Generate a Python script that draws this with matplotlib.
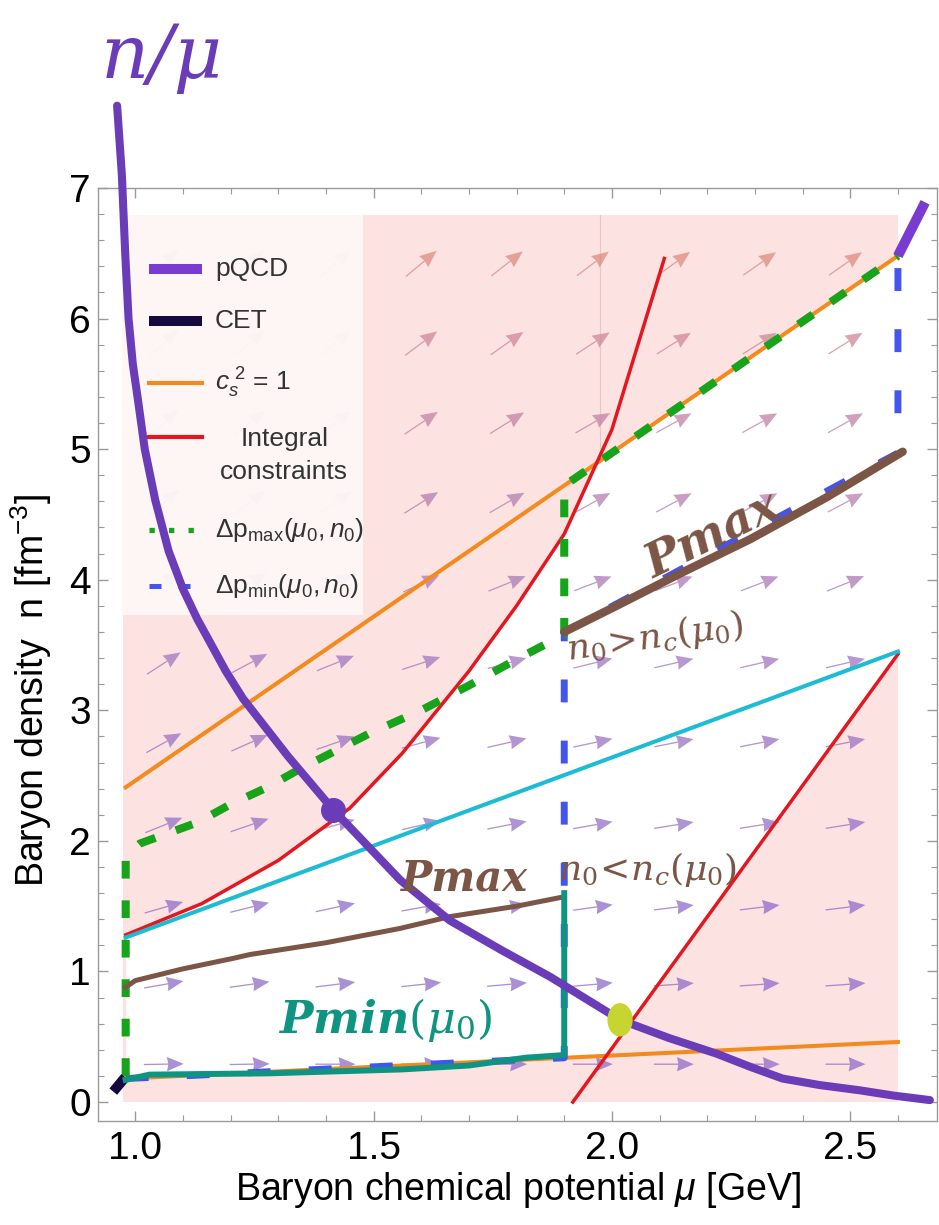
import numpy as np
import matplotlib
matplotlib.use('Agg')
import matplotlib.pyplot as plt
from matplotlib.patches import Rectangle, Ellipse

plt.rcParams['font.family'] = ['Liberation Sans', 'DejaVu Sans']
plt.rcParams['mathtext.fontset'] = 'custom'
plt.rcParams['mathtext.rm'] = 'Liberation Sans'
plt.rcParams['mathtext.it'] = 'Liberation Sans:italic'
plt.rcParams['mathtext.bf'] = 'Liberation Sans:bold'

# shaded box (mu in GeV, n in fm^-3)
mu_box = [0.975, 2.60]
n_box = [0.0, 6.79]

# causality lines c_s^2 = 1
mu_cs_lo = [0.98, 2.60]
n_cs_lo = [0.18, 0.46]
mu_cs_hi = [0.98, 2.60]
n_cs_hi = [2.41, 6.48]

# integral constraints
mu_int_left = [0.98, 1.14, 1.30, 1.45, 1.56, 1.70, 1.80, 1.90, 2.00, 2.11]
n_int_left = [1.28, 1.52, 1.85, 2.25, 2.67, 3.30, 3.80, 4.35, 5.15, 6.46]
mu_int_right = [1.918, 2.60]
n_int_right = [0.0, 3.43]

# cyan line
mu_cyan = [0.98, 2.60]
n_cyan = [1.26, 3.45]

# Delta p_max(mu0, n0) and Delta p_min(mu0, n0)
mu_pmax = [0.98, 0.98, 0.99, 1.01, 1.13, 1.20, 1.277, 1.35, 1.415, 1.49, 1.60, 1.70, 1.80, 1.90, 1.90, 2.60]
n_pmax = [0.20, 1.85, 1.92, 1.98, 2.14, 2.28, 2.41, 2.56, 2.68, 2.82, 3.00, 3.19, 3.39, 3.58, 4.72, 6.48]
mu_pmin = [0.98, 1.90, 1.90, 2.60, 2.60]
n_pmin = [0.18, 0.339, 3.60, 4.97, 6.48]

# pQCD and CET ends
mu_pqcd = [2.60, 2.657]
n_pqcd = [6.48, 6.89]
mu_cet = [0.954, 0.979]
n_cet = [0.08, 0.19]

# drawn-on curves
mu_hand_pmax_hi = [1.90, 2.01, 2.15, 2.29, 2.45, 2.61]
n_hand_pmax_hi = [3.60, 3.80, 4.06, 4.31, 4.63, 4.98]
mu_hand_pmax_lo = [0.98, 1.00, 1.10, 1.205, 1.241, 1.40, 1.556, 1.66, 1.80, 1.897]
n_hand_pmax_lo = [0.88, 0.93, 1.02, 1.10, 1.13, 1.22, 1.33, 1.42, 1.50, 1.57]
mu_hand_pmin = [0.98, 1.03, 1.28, 1.56, 1.70, 1.82, 1.90, 1.90]
n_hand_pmin = [0.17, 0.21, 0.22, 0.25, 0.28, 0.34, 0.36, 1.60]
mu_n_over_mu = [0.962, 0.972, 0.979, 0.986, 0.995, 1.006, 1.02, 1.042, 1.07, 1.10, 1.13,
                1.157, 1.19, 1.226, 1.32, 1.415, 1.556, 1.66, 1.77, 1.87, 2.017, 2.12,
                2.22, 2.29, 2.358, 2.436, 2.52, 2.59, 2.667]
n_n_over_mu = [7.63, 7.10, 6.50, 6.00, 5.65, 5.37, 5.00, 4.61, 4.22, 3.93, 3.70,
               3.52, 3.30, 3.09, 2.65, 2.24, 1.70, 1.39, 1.16, 0.96, 0.63, 0.49,
               0.37, 0.27, 0.18, 0.13, 0.09, 0.05, 0.015]
dot_purple = (1.415, 2.24)
dot_yellow = (2.017, 0.63)

# vector field: grid and arrow angles (deg, on screen)
arrow_mu = [1.06, 1.24, 1.42, 1.60, 1.78, 1.96, 2.13, 2.31, 2.49]
arrow_n = [0.29, 0.90, 1.49, 2.12, 2.75, 3.36, 3.97, 4.59, 5.20, 5.81, 6.42]
arrow_angle = [
    [1, 1, 0, 0, 0, 0, 0, 0, 0],
    [10, 8, 7, 6, 5, 5, 4, 4, 4],
    [16, 14, 12, 10, 9, 8, 7, 7, 7],
    [22, 19, 16, 13, 11, 10, 9, 9, 9],
    [29, 24, 19, 15, 13, 12, 11, 11, 11],
    [33, 28, 22, 18, 15, 14, 13, 13, 13],
    [38, 33, 28, 25, 22, 21, 21, 21, 22],
    [40, 37, 34, 32, 30, 29, 28, 28, 28],
    [41, 39, 37, 34, 32, 30, 29, 29, 29],
    [42, 41, 39, 37, 35, 33, 32, 32, 32],
    [43, 42, 41, 40, 38, 37, 36, 35, 35],
]
arrow_row_color = ['#8e6cc9', '#8e6cc9', '#8e6cc9', '#9470c6', '#9a72c2', '#a076be',
                   '#ab7ab6', '#b67eae', '#c282a4', '#ce8794', '#dc8b80']

fig = plt.figure(figsize=(9.39, 12.25), dpi=100)
ax = fig.add_axes([0.1044, 0.0849, 0.8935, 0.7617])
ax.set_xlim(0.922, 2.682)
ax.set_ylim(-0.145, 7.0)

# pink excluded area, white allowed area on top
ax.add_patch(Rectangle((mu_box[0], n_box[0]), mu_box[1] - mu_box[0], n_box[1] - n_box[0],
                       fc='#fde2e2', ec='none', zorder=0))
grid = np.linspace(mu_cs_lo[0], mu_box[1], 600)
lo = np.maximum(np.interp(grid, mu_cs_lo, n_cs_lo), np.interp(grid, mu_int_right, n_int_right))
hi = np.minimum(np.interp(grid, mu_cs_hi, n_cs_hi), np.interp(grid, mu_int_left, n_int_left, right=np.inf))
ax.fill_between(grid, lo, hi, color='white', lw=0, zorder=0.5)
ax.plot([1.975, 1.975], [4.9, n_box[1]], color='#e9c6c6', lw=0.8, zorder=0.6)

# vector field
M, N = np.meshgrid(arrow_mu, arrow_n)
ang = np.radians(np.array(arrow_angle, dtype=float))
cols = np.repeat(arrow_row_color, len(arrow_mu))
ax.quiver(M, N, np.cos(ang), np.sin(ang), color=cols, angles='uv', pivot='middle',
          scale_units='dots', scale=1 / 40.0, units='dots', width=1.3,
          headwidth=11, headlength=13, headaxislength=12, alpha=0.75, zorder=1)

# legend panel
ax.add_patch(Rectangle((0.0286, 0.542), 0.287, 0.429, transform=ax.transAxes,
                       fc='#fdf8f7', ec='none', alpha=0.95, zorder=1.5))

# curves
ax.plot(mu_cs_lo, n_cs_lo, color='#f28a1e', lw=2.9, zorder=2)
ax.plot(mu_cs_hi, n_cs_hi, color='#f28a1e', lw=2.9, zorder=2)
ax.plot(mu_int_left, n_int_left, color='#e3171f', lw=2.5, zorder=2.1)
ax.plot(mu_int_right, n_int_right, color='#e3171f', lw=2.5, zorder=2.1)
ax.plot(mu_cyan, n_cyan, color='#1bbcd4', lw=2.9, zorder=2.1)
ax.plot(mu_pmax, n_pmax, color='#17a31a', lw=5.8, dashes=(2.2, 2.7), solid_capstyle='butt', zorder=2.3)
ax.plot(mu_pmin, n_pmin, color='#4455ee', lw=5.0, dashes=(3.3, 5.5), zorder=2.2)
ax.plot(mu_pqcd, n_pqcd, color='#7a3bd0', lw=7.2, solid_capstyle='butt', zorder=2.4)
ax.plot(mu_cet, n_cet, color='#16093f', lw=7.2, solid_capstyle='butt', zorder=2.4)

# drawn-on curves and labels
ax.plot(mu_hand_pmax_hi, n_hand_pmax_hi, color='#7b5546', lw=6.0, solid_capstyle='round', zorder=3)
ax.plot(mu_hand_pmax_lo, n_hand_pmax_lo, color='#7b5546', lw=3.6, zorder=3)
ax.plot(mu_hand_pmin, n_hand_pmin, color='#0f9482', lw=4.3, zorder=3)
ax.plot(mu_n_over_mu, n_n_over_mu, color='#6a3cb8', lw=5.8, solid_capstyle='round',
        solid_joinstyle='round', clip_on=False, zorder=3.5)
ax.plot(*dot_purple, 'o', color='#6a3cb8', ms=17, zorder=3.6)
ax.add_patch(Ellipse(dot_yellow, 0.050, 0.245, color='#c7d530', zorder=3.7))

hand = dict(family='DejaVu Serif', style='italic', fontweight='bold', math_fontfamily='dejavuserif',
            ha='center', va='center', zorder=4)
ax.text(2.21, 4.34, 'Pmax', color='#7b5546', fontsize=34, rotation=26, rotation_mode='anchor', **hand)
ax.text(1.69, 1.715, 'Pmax', color='#7b5546', fontsize=30, **hand)
ax.text(2.09, 3.56, r'$n_0\!>\!n_c(\mu_0)$', color='#7b5546', fontsize=26, rotation=8,
        rotation_mode='anchor', **hand)
ax.text(2.075, 1.78, r'$n_0\!<\!n_c(\mu_0)$', color='#7b5546', fontsize=26, **hand)
ax.text(1.524, 0.63, r'Pmin$(\mu_0)$', color='#0f9482', fontsize=32, **hand)
fig.text(0.172, 0.953, 'n/μ', color='#6a3cb8', fontsize=54, family='DejaVu Serif',
         style='italic', ha='center', va='center')

# legend
lx0, lx1, ltx = 0.0608, 0.124, 0.1395
ax.plot([lx0, lx1], [0.913, 0.913], transform=ax.transAxes, color='#7a3bd0', lw=7.2,
        solid_capstyle='butt', zorder=2.5)
ax.plot([lx0, lx1], [0.857, 0.857], transform=ax.transAxes, color='#16093f', lw=7.2,
        solid_capstyle='butt', zorder=2.5)
ax.plot([lx0, lx1], [0.791, 0.791], transform=ax.transAxes, color='#f28a1e', lw=3, zorder=2.5)
ax.plot([lx0, lx1], [0.733, 0.733], transform=ax.transAxes, color='#e3171f', lw=3, zorder=2.5)
ax.plot([lx0, lx1], [0.633, 0.633], transform=ax.transAxes, color='#17a31a', lw=3.8,
        dashes=(1.0, 2.7), zorder=2.5)
ax.plot([lx0, lx1], [0.573, 0.573], transform=ax.transAxes, color='#4455ee', lw=3.6,
        dashes=(2.4, 3.4), zorder=2.5)
lt = dict(transform=ax.transAxes, fontsize=19, color='#333333', va='center', zorder=2.5)
ax.text(ltx, 0.913, 'pQCD', **lt)
ax.text(ltx, 0.857, 'CET', **lt)
ax.text(ltx, 0.791, r'$c_s^{\ 2}$ = 1', **lt)
ax.text(0.222, 0.713, 'Integral\nconstraints', ha='center', linespacing=1.45, **lt)
ax.text(ltx, 0.633, r'$\Delta\mathrm{p}_{\mathrm{max}}(\mu_0,n_0)$', **lt)
ax.text(ltx, 0.573, r'$\Delta\mathrm{p}_{\mathrm{min}}(\mu_0,n_0)$', **lt)

# frame and ticks
for s in ax.spines.values():
    s.set_color('#9a9a9a')
    s.set_linewidth(1.0)
ax.set_xticks([1.0, 1.5, 2.0, 2.5])
ax.set_xticks(np.arange(1.0, 2.7, 0.1), minor=True)
ax.set_yticks(range(8))
ax.set_yticks(np.arange(0, 7.01, 0.2), minor=True)
ax.set_xticklabels(['1.0', '1.5', '2.0', '2.5'])
ax.tick_params(which='both', direction='in', top=True, right=True, color='#9a9a9a', labelsize=28)
ax.tick_params(which='major', length=7, width=1)
ax.tick_params(which='minor', length=4, width=0.8)
ax.tick_params(axis='x', pad=7)
ax.tick_params(axis='y', pad=5)

ax.set_xlabel(r'Baryon chemical potential $\mu$ [GeV]', fontsize=27)
ax.set_ylabel(r'Baryon density  n [fm$^{-3}$]', fontsize=27)
ax.xaxis.set_label_coords(0.5, -0.052)
ax.yaxis.set_label_coords(-0.053, 0.462)

plt.savefig('out.png', dpi=100)
